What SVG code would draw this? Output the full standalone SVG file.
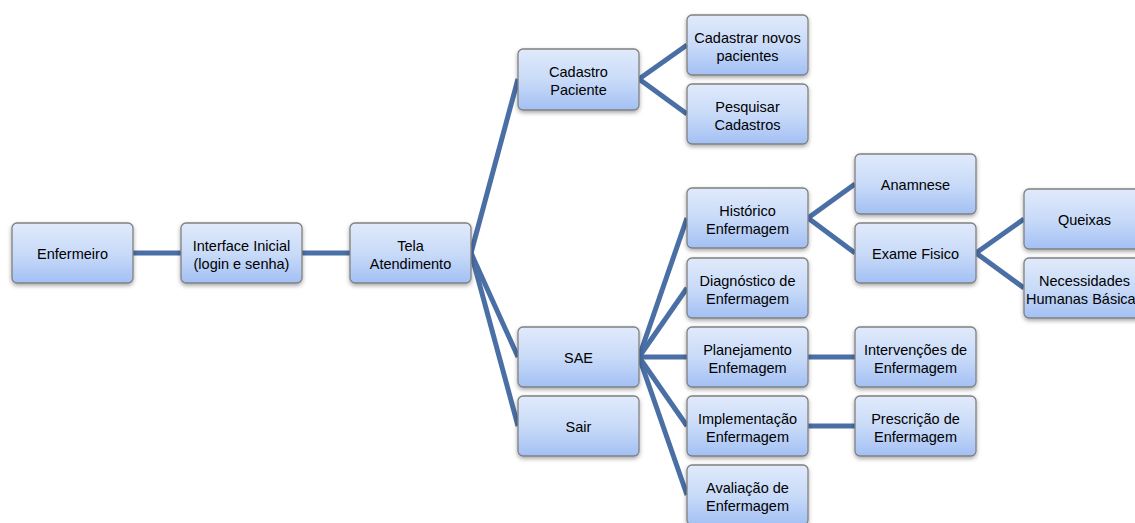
<svg xmlns="http://www.w3.org/2000/svg" width="1135" height="523" viewBox="0 0 1135 523">
<defs>
<linearGradient id="g" x1="0" y1="0" x2="0" y2="1">
<stop offset="0" stop-color="#e0eafb"/>
<stop offset="0.5" stop-color="#c9dbf8"/>
<stop offset="1" stop-color="#a3c0f4"/>
</linearGradient>
<filter id="sh" x="-10%" y="-10%" width="120%" height="130%">
<feDropShadow dx="0" dy="2" stdDeviation="2" flood-color="#000" flood-opacity="0.35"/>
</filter>
</defs>
<style>
.n rect{fill:url(#g);stroke:#808080;stroke-width:1.3;filter:url(#sh)}
.n text{font-family:"Liberation Sans",Arial,sans-serif;font-size:14.5px;fill:#000;text-anchor:middle}
#connectors line{stroke:#4a6fa5;stroke-width:5;stroke-linecap:butt}
</style>
<rect width="1135" height="523" fill="#fff"/>
<g id="connectors">
<line x1="133" y1="253" x2="181" y2="253"/>
<line x1="302" y1="253" x2="350" y2="253"/>
<line x1="471" y1="253" x2="518" y2="79"/>
<line x1="471" y1="253" x2="518" y2="357"/>
<line x1="471" y1="253" x2="518" y2="426"/>
<line x1="639" y1="79" x2="687" y2="45"/>
<line x1="639" y1="79" x2="687" y2="114"/>
<line x1="639" y1="357" x2="687" y2="218"/>
<line x1="639" y1="357" x2="687" y2="288"/>
<line x1="639" y1="357" x2="687" y2="357"/>
<line x1="639" y1="357" x2="687" y2="426"/>
<line x1="639" y1="357" x2="687" y2="495"/>
<line x1="808" y1="218" x2="855" y2="184"/>
<line x1="808" y1="218" x2="855" y2="253"/>
<line x1="976" y1="253" x2="1024" y2="219"/>
<line x1="976" y1="253" x2="1024" y2="288"/>
<line x1="808" y1="357" x2="855" y2="357"/>
<line x1="808" y1="426" x2="855" y2="426"/>
</g>
<g id="enfermeiro" class="n"><rect x="12" y="223" width="121" height="60" rx="5"/><text x="72.5" y="259">Enfermeiro</text></g>
<g id="interface" class="n"><rect x="181" y="223" width="121" height="60" rx="5"/><text x="241.5" y="251">Interface Inicial</text><text x="241.5" y="269">(login e senha)</text></g>
<g id="tela" class="n"><rect x="350" y="223" width="121" height="60" rx="5"/><text x="410.5" y="251">Tela</text><text x="410.5" y="269">Atendimento</text></g>
<g id="cadastro" class="n"><rect x="518" y="49" width="121" height="61" rx="5"/><text x="578.5" y="77">Cadastro</text><text x="578.5" y="95">Paciente</text></g>
<g id="sae" class="n"><rect x="518" y="327" width="121" height="60" rx="5"/><text x="578.5" y="363">SAE</text></g>
<g id="sair" class="n"><rect x="518" y="396" width="121" height="60" rx="5"/><text x="578.5" y="432">Sair</text></g>
<g id="cadastrar" class="n"><rect x="687" y="15" width="121" height="60" rx="5"/><text x="747.5" y="43">Cadastrar novos</text><text x="747.5" y="61">pacientes</text></g>
<g id="pesquisar" class="n"><rect x="687" y="84" width="121" height="60" rx="5"/><text x="747.5" y="112">Pesquisar</text><text x="747.5" y="130">Cadastros</text></g>
<g id="historico" class="n"><rect x="687" y="188" width="121" height="60" rx="5"/><text x="747.5" y="216">Histórico</text><text x="747.5" y="234">Enfermagem</text></g>
<g id="diagnostico" class="n"><rect x="687" y="258" width="121" height="60" rx="5"/><text x="747.5" y="286">Diagnóstico de</text><text x="747.5" y="304">Enfermagem</text></g>
<g id="planejamento" class="n"><rect x="687" y="327" width="121" height="60" rx="5"/><text x="747.5" y="355">Planejamento</text><text x="747.5" y="373">Enfemagem</text></g>
<g id="implementacao" class="n"><rect x="687" y="396" width="121" height="60" rx="5"/><text x="747.5" y="424">Implementação</text><text x="747.5" y="442">Enfermagem</text></g>
<g id="avaliacao" class="n"><rect x="687" y="465" width="121" height="60" rx="5"/><text x="747.5" y="493">Avaliação de</text><text x="747.5" y="511">Enfermagem</text></g>
<g id="anamnese" class="n"><rect x="855" y="154" width="121" height="60" rx="5"/><text x="915.5" y="190">Anamnese</text></g>
<g id="exame" class="n"><rect x="855" y="223" width="121" height="60" rx="5"/><text x="915.5" y="259">Exame Fisico</text></g>
<g id="intervencoes" class="n"><rect x="855" y="327" width="121" height="60" rx="5"/><text x="915.5" y="355">Intervenções de</text><text x="915.5" y="373">Enfermagem</text></g>
<g id="prescricao" class="n"><rect x="855" y="396" width="121" height="60" rx="5"/><text x="915.5" y="424">Prescrição de</text><text x="915.5" y="442">Enfermagem</text></g>
<g id="queixas" class="n"><rect x="1024" y="189" width="121" height="60" rx="5"/><text x="1084.5" y="225">Queixas</text></g>
<g id="necessidades" class="n"><rect x="1024" y="258" width="121" height="60" rx="5"/><text x="1084.5" y="286">Necessidades</text><text x="1084.5" y="304">Humanas Básicas</text></g>
</svg>
